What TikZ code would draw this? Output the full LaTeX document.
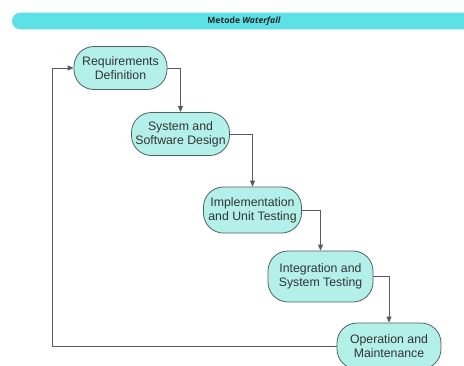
\documentclass[tikz,border=0pt]{standalone}
\usepackage{fontspec}
\setmainfont{Liberation Sans}
\newfontfamily\bannerfont{Open Sans}
\usetikzlibrary{arrows.meta}
\definecolor{bannerc}{HTML}{5CE1E6}
\definecolor{boxfill}{HTML}{B4F0EA}
\definecolor{boxline}{HTML}{4E6262}
\definecolor{linec}{HTML}{5A5A5A}
\tikzset{
  stage/.style={draw=boxline, line width=0.8pt, fill=boxfill, rounded corners=20pt,
    minimum width=98pt, minimum height=43pt, inner sep=0pt, align=center,
    text=black!80, font=\fontsize{12.3}{14}\selectfont},
  conn/.style={draw=linec, line width=0.8pt, -{Triangle[length=6pt,width=5pt]}},
}
\begin{document}
\begin{tikzpicture}[x=1pt,y=-1pt]
\useasboundingbox (0,0) rectangle (464,365);
\clip (0,0) rectangle (464,365);
\fill[white] (0,0) rectangle (464,365);
\fill[bannerc, rounded corners=8.3pt] (12,12.7) rectangle (490,29.3);
\node[font=\bannerfont\bfseries\fontsize{8.6}{10}\selectfont, text=black!85] (title) at (244,21) {Metode \textit{Waterfall}};
\node[stage, minimum width=93pt] (r) at (120.5,68) {Requirements\\Definition};
\node[stage] (s) at (180.5,134) {System and\\Software Design};
\node[stage, minimum height=46pt] (i) at (252.5,210) {Implementation\\and Unit Testing};
\node[stage, minimum height=51pt, minimum width=105pt] (t) at (320.5,276.5) {Integration and\\System Testing};
\node[stage, minimum height=46pt, minimum width=104pt] (o) at (389,346) {Operation and\\Maintenance};
\coordinate (fb) at (52,0);
\draw[conn] (r.east) -| (s.north);
\draw[conn] (s.east) -| (i.north);
\draw[conn] (i.east) -| (t.north);
\draw[conn] (t.east) -| (o.north);
\draw[conn] (o.west) -- (o.west -| fb) -- (r.west -| fb) -- (r.west);
\end{tikzpicture}
\end{document}
